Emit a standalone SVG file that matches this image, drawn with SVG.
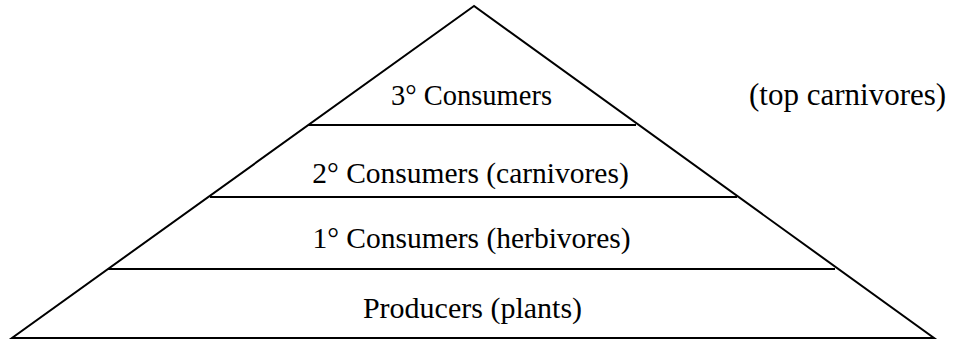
<svg xmlns="http://www.w3.org/2000/svg" width="953" height="340" viewBox="0 0 953 340">
  <style>
    .edge { stroke: #000; stroke-width: 2; fill: none; }
    .lbl { font-family: "Liberation Serif", "Times New Roman", "DejaVu Serif", serif; font-size: 29.5px; fill: #000; }
  </style>
  <rect width="953" height="340" fill="#fff"/>
  <g id="pyramid">
    <polygon class="edge" points="474,6 12,338 934,338"/>
  </g>
  <g id="connectors">
    <line class="edge" x1="308" y1="125" x2="636" y2="125"/>
    <line class="edge" x1="210" y1="197" x2="737" y2="197"/>
    <line class="edge" x1="108" y1="269" x2="835" y2="269"/>
  </g>
  <g id="tertiary">
    <text class="lbl" x="391" y="105" style="font-size:28.5px">3° Consumers</text>
    <text class="lbl" x="749" y="105" style="font-size:31px">(top carnivores)</text>
  </g>
  <g id="secondary">
    <text class="lbl" x="470.5" y="183" text-anchor="middle">2° Consumers (carnivores)</text>
  </g>
  <g id="primary">
    <text class="lbl" x="471.5" y="248" text-anchor="middle">1° Consumers (herbivores)</text>
  </g>
  <g id="producers">
    <text class="lbl" x="472.5" y="318" text-anchor="middle" style="font-size:30px">Producers (plants)</text>
  </g>
</svg>
